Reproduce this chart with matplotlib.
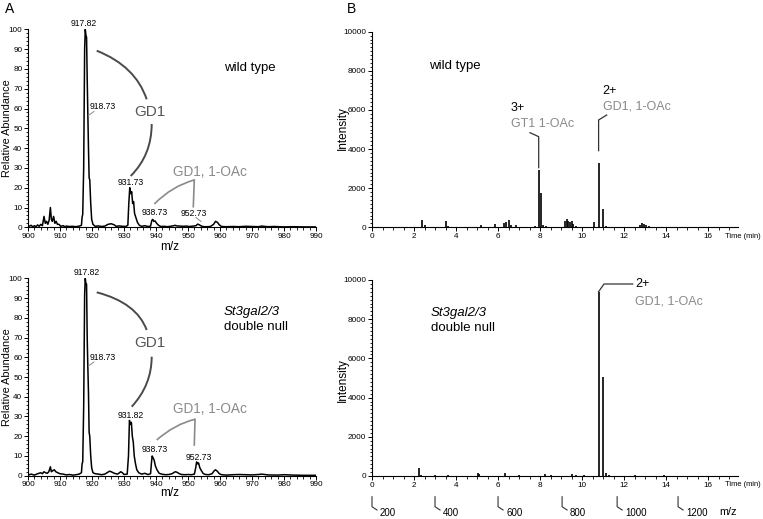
import matplotlib
matplotlib.use("Agg")
import matplotlib.pyplot as plt
from matplotlib.ticker import MultipleLocator
from matplotlib.patches import PathPatch
from matplotlib.path import Path
import matplotlib.transforms as mtransforms

plt.rcParams['font.family'] = ['Liberation Sans', 'DejaVu Sans']

# ---------------- data ----------------
# Panel A, wild type: MS profile (m/z, relative abundance)
wt_mz = [900.0, 901, 901.5, 902, 902.5, 903, 903.5, 904, 904.5, 905, 905.4, 905.8, 906.2, 906.6,
         907.0, 907.3, 907.6, 908, 908.4, 908.8, 909.2, 909.7, 910.2, 911, 911.5, 912, 913, 914,
         915, 916, 916.7, 916.9, 917.1, 917.4, 917.7, 917.9, 918.1, 918.3, 918.5, 918.7, 918.9,
         919.1, 919.3, 919.6, 919.9, 920.3, 921, 922, 923, 924, 925, 926, 927, 927.5, 928.5,
         929.5, 930.5, 931.2, 931.5, 931.8, 932.1, 932.4, 932.7, 933, 933.3, 933.7, 934.2, 934.8,
         935.5, 936.5, 937.5, 938.3, 938.7, 939, 939.3, 939.7, 940.2, 940.8, 941.5, 942.5, 943.5,
         944.5, 945.5, 946, 946.5, 947.5, 948.5, 949.5, 950.5, 951.5, 952.5, 953, 953.5, 954.2,
         955, 956, 957, 958, 958.6, 959.2, 959.8, 960.5, 962, 964, 966, 968, 970, 972, 973, 975,
         977, 980, 983, 986, 990]
wt_ab = [0.3, 1, 0.2, 0.8, 0.3, 1.2, 0.5, 1.5, 0.8, 5.5, 2, 3, 1.5, 3.5,
         10, 4, 3, 5.5, 2, 3, 1.5, 1.5, 0.5, 0.8, 0.3, 0.6, 0.4, 0.5,
         0.3, 0.6, 1, 5, 6.5, 30, 90, 100, 97, 96, 75, 57, 40,
         25, 24, 12, 4, 1.5, 0.5, 0.7, 0.4, 0.6, 1.5, 1.8, 1.2, 0.5, 0.7,
         0.5, 0.4, 1, 12, 20, 17, 18, 12, 13, 7, 5, 2.5, 1,
         0.5, 0.8, 0.4, 0.6, 3.5, 4, 3, 3.2, 2, 1, 0.4, 0.5, 0.3,
         0.5, 0.8, 1, 0.7, 0.6, 0.5, 0.6, 0.4, 0.6, 0.8, 1.6, 1.3, 0.6,
         0.3, 0.3, 0.4, 1.5, 3, 2.5, 1.2, 0.4, 0.3, 0.4, 0.3, 0.5, 0.4, 0.3, 0.6, 0.3,
         0.4, 0.2, 0.3, 0.2, 0.2]

# Panel A, St3gal2/3 double null
dn_mz = [900, 901, 902, 903, 904, 904.5, 905, 905.5, 906, 906.5, 907, 907.3, 907.7, 908.2,
         908.7, 909.3, 910, 911, 912, 913, 914, 915, 916, 916.7, 916.9, 917.1, 917.4, 917.7,
         917.9, 918.1, 918.3, 918.5, 918.7, 918.9, 919.1, 919.3, 919.6, 919.9, 920.3, 921, 922,
         923, 924, 925, 925.5, 926, 927, 928, 929, 929.5, 930, 931, 931.4, 931.7, 932, 932.3,
         932.6, 932.9, 933.2, 933.6, 934, 934.6, 935.5, 936.5, 937.5, 938.3, 938.6, 938.8, 939.1,
         939.4, 939.8, 940.3, 941, 942, 943, 944, 945, 946, 946.5, 947.3, 948, 949, 950, 951,
         952, 952.4, 952.7, 953, 953.3, 953.7, 954.2, 954.8, 955.5, 956.5, 957.5, 958.2, 958.6,
         959.2, 959.8, 960.5, 962, 964, 966, 968, 970, 972, 973, 975, 978, 980, 983, 986, 990]
dn_ab = [0.3, 0.8, 0.3, 1, 1.5, 1, 2, 1.5, 1.2, 2, 4.5, 2, 2.5, 3,
         2, 1.5, 1, 0.8, 0.4, 0.6, 0.3, 0.5, 0.8, 1.5, 6, 7, 35, 92,
         100, 97, 97, 70, 55, 42, 22, 20, 10, 4, 1.5, 1, 0.8,
         0.5, 0.8, 1.8, 2.3, 2, 1.2, 0.8, 2, 1.5, 0.6, 0.8, 10, 28, 26, 27,
         20, 17, 10, 6, 3, 1.5, 0.8, 1.2, 0.6, 1, 7, 10, 9,
         8, 5, 3, 1.2, 0.7, 0.5, 0.6, 1, 2, 1.8, 1, 0.6, 0.5, 0.6, 0.5,
         0.8, 4, 7, 6, 6.5, 4, 2.5, 1, 0.6, 0.5, 1, 2.5, 3,
         2.2, 1, 0.5, 0.3, 0.5, 0.6, 0.5, 0.4, 0.6, 0.8, 0.4, 0.3, 0.5, 0.3, 0.2, 0.2]

# Panel B, chromatograms (time min, intensity)
wt_t = [2.4, 2.5, 3.5, 3.6, 4.0, 5.2, 5.85, 6.3, 6.4, 6.5, 6.6, 6.85, 7.75, 7.93, 8.05, 8.15,
        8.3, 9.2, 9.28, 9.35, 9.42, 9.5, 9.58, 9.7, 10.55, 10.8, 11.0, 11.15, 12.75, 12.85,
        12.95, 13.05, 13.2]
wt_i = [360, 100, 300, 80, 40, 100, 150, 200, 250, 350, 100, 100, 80, 2930, 1770, 100,
        60, 300, 420, 300, 250, 330, 150, 60, 250, 3300, 920, 60, 120, 200,
        150, 120, 60]
dn_t = [2.25, 2.35, 3.0, 3.6, 5.05, 5.1, 6.35, 7.0, 8.25, 8.5, 9.5, 9.7, 10.1, 10.8, 11.0,
        11.15, 11.3, 12.5, 13.9]
dn_i = [400, 60, 40, 40, 150, 80, 130, 50, 100, 50, 100, 60, 70, 9400, 5030,
        150, 50, 30, 30]

# m/z scale under panel B (time position, label)
mz_scale_t = [0.0, 3.0, 6.0, 9.05, 11.67, 14.57]
mz_scale_lab = ["200", "400", "600", "800", "1000", "1200"]

# ---------------- figure ----------------
W, H = 763, 519
fig = plt.figure(figsize=(W / 100, H / 100), dpi=100)


def rect(x0, x1, ytop, ybot):
    return [x0 / W, 1 - ybot / H, (x1 - x0) / W, (ybot - ytop) / H]


def P(x, y):
    return (x / W, 1 - y / H)


axA1 = fig.add_axes(rect(28, 316, 29.3, 227.3))
axA2 = fig.add_axes(rect(28, 316, 278.3, 475.7))
axB1 = fig.add_axes(rect(372, 737.5, 31.7, 227.3))
axB2 = fig.add_axes(rect(372, 737.5, 280, 476))

TICKFS = 5.9
for ax in (axA1, axA2, axB1, axB2):
    for s in ("top", "right"):
        ax.spines[s].set_visible(False)
    for s in ("left", "bottom"):
        ax.spines[s].set_linewidth(0.8)
    ax.tick_params(which="major", length=3, width=0.7, labelsize=TICKFS, pad=1)
    ax.tick_params(which="minor", length=1.8, width=0.6)

for ax, mz, ab in ((axA1, wt_mz, wt_ab), (axA2, dn_mz, dn_ab)):
    ax.plot(mz, ab, color="black", lw=1.1)
    ax.set_xlim(900, 990)
    ax.set_ylim(0, 100)
    ax.xaxis.set_major_locator(MultipleLocator(10))
    ax.xaxis.set_minor_locator(MultipleLocator(2))
    ax.yaxis.set_major_locator(MultipleLocator(10))
    ax.yaxis.set_minor_locator(MultipleLocator(2))

for ax, t, inten in ((axB1, wt_t, wt_i), (axB2, dn_t, dn_i)):
    ax.vlines(t, 0, inten, color="black", lw=1.2)
    ax.set_xlim(0, 17.4)
    ax.set_ylim(0, 10000)
    ax.set_xticks(range(0, 17, 2))
    ax.xaxis.set_minor_locator(MultipleLocator(0.5))
    ax.yaxis.set_major_locator(MultipleLocator(2000))
    ax.yaxis.set_minor_locator(MultipleLocator(200))


def ftext(x, y, s, **kw):
    kw.setdefault("va", "center")
    fig.text(*P(x, y), s, **kw)


# axis labels
for yc in (128, 377):
    ftext(7, yc, "Relative Abundance", fontsize=7.8, ha="center", rotation=90)
for yc in (128, 380):
    ftext(343, yc, "Intensity", fontsize=8.5, ha="center", rotation=90)
ftext(170, 246.5, "m/z", fontsize=8.5, ha="center")
ftext(170, 493, "m/z", fontsize=8.5, ha="center")

# panel letters
ftext(10, 9, "A", fontsize=10, ha="center")
ftext(351, 9, "B", fontsize=10, ha="center")

# Time label
for yy in (236.5, 485):
    ftext(743, yy, "Time (min)", fontsize=5.4, ha="center")

DARK = "#4a4a4a"
GREY = "#8a8a8a"


def curve(p0, c, p1, color, lw=1.4):
    verts = [P(*p0), P(*c), P(*p1)]
    path = Path(verts, [Path.MOVETO, Path.CURVE3, Path.CURVE3])
    fig.add_artist(PathPatch(path, fc="none", ec=color, lw=lw, transform=fig.transFigure))


def line(pts, color, lw=1.0):
    xs = [p[0] / W for p in pts]
    ys = [1 - p[1] / H for p in pts]
    fig.add_artist(plt.Line2D(xs, ys, color=color, lw=lw, transform=fig.transFigure))


LABFS = 6.2
# ---- A top annotations ----
ftext(83.3, 23.5, "917.82", fontsize=LABFS, ha="center")
ftext(89.5, 106.7, "918.73", fontsize=LABFS, ha="left")
line([(88.3, 115.5), (94, 111.5)], GREY, 0.7)
ftext(131, 182.3, "931.73", fontsize=LABFS, ha="center")
ftext(154.3, 212.3, "938.73", fontsize=LABFS, ha="center")
ftext(193.3, 213.3, "952.73", fontsize=LABFS, ha="center")
line([(196, 217.5), (201, 221.5)], GREY, 0.7)
ftext(224, 68, "wild type", fontsize=9.5, ha="left")
ftext(149.5, 111.7, "GD1", fontsize=11, ha="center", color="#555555")
curve((96.7, 50.7), (135.5, 66), (146.7, 99.3), DARK)
curve((151.7, 124), (151.7, 155), (130.7, 176), DARK)
ftext(172.7, 171.7, "GD1, 1-OAc", fontsize=9.8, ha="left", color=GREY)
curve((154.3, 204), (172, 186), (194.3, 180), GREY, 1.2)
line([(194.3, 180), (193.3, 206.7)], GREY, 1.2)

# ---- A bottom annotations ----
ftext(86.7, 272.3, "917.82", fontsize=LABFS, ha="center")
ftext(89.5, 357.3, "918.73", fontsize=LABFS, ha="left")
line([(88.3, 366), (94, 362)], GREY, 0.7)
ftext(131, 415, "931.82", fontsize=LABFS, ha="center")
ftext(155, 450, "938.73", fontsize=LABFS, ha="center")
ftext(198.3, 457.3, "952.73", fontsize=LABFS, ha="center")
ftext(224, 311.7, "St3gal2/3", fontsize=9.5, ha="left", style="italic")
ftext(224, 326.7, "double null", fontsize=9.5, ha="left")
ftext(149.5, 343.3, "GD1", fontsize=11, ha="center", color="#555555")
curve((96.7, 292.3), (136.7, 302.7), (146.7, 330), DARK)
curve((151.7, 356.7), (151.7, 385), (131.7, 406.7), DARK)
ftext(172.7, 409, "GD1, 1-OAc", fontsize=9.8, ha="left", color=GREY)
curve((156.7, 440), (175, 424), (195, 419.3), GREY, 1.2)
line([(195, 419.3), (194.3, 445)], GREY, 1.2)

# ---- B annotations ----
ftext(429, 65.7, "wild type", fontsize=9.5, ha="left")
ftext(511, 108, "3+", fontsize=9, ha="left")
ftext(511, 123.5, "GT1 1-OAc", fontsize=9, ha="left", color=GREY)
line([(530, 132.7), (538.7, 136.7), (538.7, 167.7)], "#333333", 0.9)
ftext(602.7, 90.7, "2+", fontsize=9, ha="left")
ftext(602.7, 106.7, "GD1, 1-OAc", fontsize=9, ha="left", color=GREY)
line([(606.7, 115), (598.6, 120), (598.6, 150.7)], "#333333", 0.9)

ftext(431, 313, "St3gal2/3", fontsize=9.5, ha="left", style="italic")
ftext(431, 328, "double null", fontsize=9.5, ha="left")
line([(598.6, 291.7), (604, 284), (632.7, 284)], "#333333", 0.9)
ftext(635, 284, "2+", fontsize=9, ha="left")
ftext(635, 301.7, "GD1, 1-OAc", fontsize=9, ha="left", color=GREY)

# m/z scale under bottom chromatogram
tr = mtransforms.blended_transform_factory(axB2.transData, fig.transFigure)
for t, lab in zip(mz_scale_t, mz_scale_lab):
    dx = 5.0 / 21.0
    fig.add_artist(plt.Line2D([t, t, t + dx], [1 - 496.7 / H, 1 - 506.7 / H, 1 - 510 / H],
                              color="#333333", lw=0.8, transform=tr))
    fig.text(t + 8.0 / 21.0, 1 - 513 / H, lab, fontsize=7, ha="left", va="center", transform=tr)
ftext(728, 512, "m/z", fontsize=7.8, ha="center")

fig.savefig("out.png", dpi=100)
